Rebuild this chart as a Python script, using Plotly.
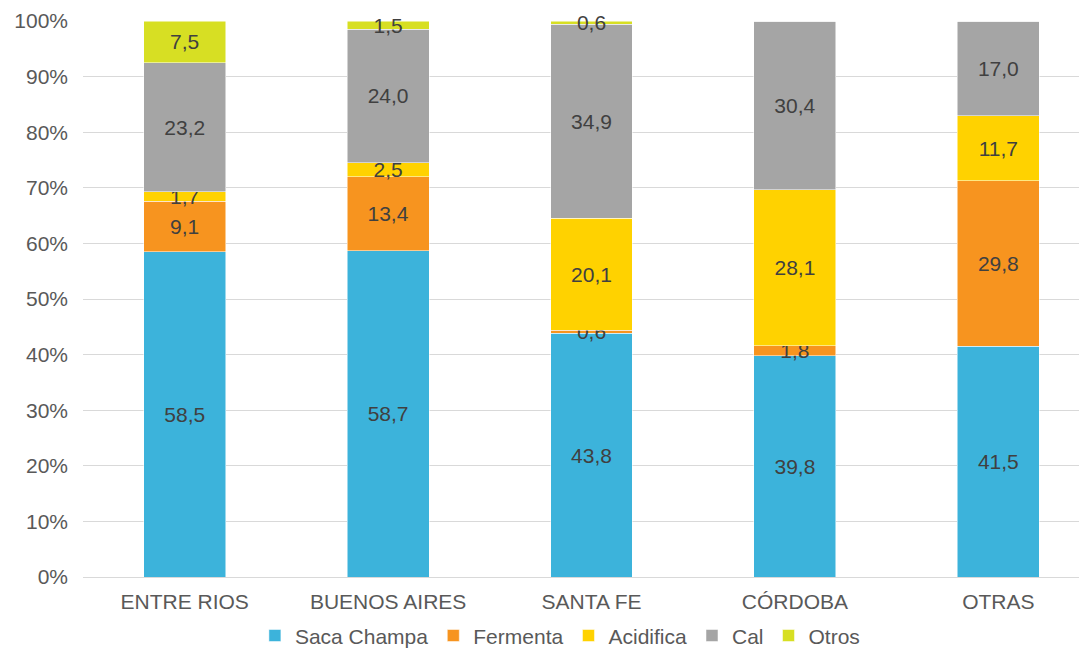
import plotly.graph_objects as go

categories = ["ENTRE RIOS", "BUENOS AIRES", "SANTA FE", "CÓRDOBA", "OTRAS"]
saca_champa = [58.5, 58.7, 43.8, 39.8, 41.5]
fermenta = [9.1, 13.4, 0.6, 1.8, 29.8]
acidifica = [1.7, 2.5, 20.1, 28.1, 11.7]
cal = [23.2, 24.0, 34.9, 30.4, 17.0]
otros = [7.5, 1.5, 0.6, 0.0, 0.0]

series = [
    ("Saca Champa", saca_champa, "#3CB3DB"),
    ("Fermenta", fermenta, "#F7941F"),
    ("Acidifica", acidifica, "#FFD200"),
    ("Cal", cal, "#A5A5A5"),
    ("Otros", otros, "#D7DF23"),
]

FONT = "Liberation Sans, Arial"
FS = 21

def fmt(v):
    return "" if v == 0 else f"{v:.1f}".replace(".", ",")

fig = go.Figure()
for name, vals, color in series:
    fig.add_trace(go.Bar(
        name=name, x=categories, y=vals,
        marker=dict(color=color, line=dict(color="white", width=0.5)),
        text=[fmt(v) for v in vals],
        textposition="inside", insidetextanchor="middle",
        textfont=dict(size=FS, color="#404040", family=FONT),
        constraintext="none", cliponaxis=False,
        hoverinfo="skip",
    ))

fig.update_layout(
    barmode="stack", barnorm="percent", bargap=0.597,
    width=1087, height=648,
    margin=dict(l=75, r=8, t=13, b=79, autoexpand=False),
    paper_bgcolor="white", plot_bgcolor="white",
    font=dict(family=FONT, size=FS, color="#595959"),
    uniformtext=dict(minsize=FS, mode="show"),
    legend=dict(orientation="h", x=0.475, xanchor="center", y=-0.069, yanchor="top",
                font=dict(size=FS, color="#595959"), traceorder="normal",
                itemwidth=30, tracegroupgap=0),
    showlegend=True,
)
fig.update_yaxes(range=[0, 100], dtick=10, ticksuffix="%", showgrid=True,
                 gridcolor="#D9D9D9", gridwidth=1, zeroline=False,
                 showline=False, ticks="", ticklen=0, automargin=False,
                 ticklabelstandoff=14,
                 tickfont=dict(size=FS, color="#595959"))
fig.update_xaxes(range=[-0.5, 4.436], showline=True, linecolor="#D9D9D9", linewidth=1,
                 ticks="", automargin=False, ticklabelstandoff=6,
                 tickfont=dict(size=FS, color="#595959"))

fig.write_html("out.html")
